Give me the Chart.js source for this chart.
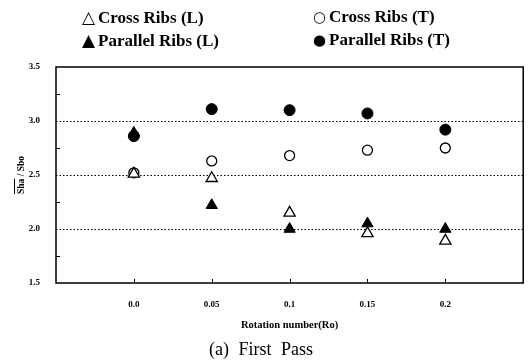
<!DOCTYPE html>
<html>
<head>
<meta charset="utf-8">
<script src="https://cdn.jsdelivr.net/npm/chart.js@4"></script>
<style>
  html, body { margin: 0; padding: 0; background: #fff; }
  #wrap { position: relative; width: 531px; height: 364px; }
  .leg { position: absolute; font: bold 17px/18px "Liberation Serif", serif; color: #000; white-space: nowrap; }
  .leg span { font: 15px/18px "DejaVu Sans", sans-serif; margin-right: 3px; }
  .leg span.tri { font-size: 17px; }
  #caption { position: absolute; left: 209px; top: 339px; font: 18px/20px "Liberation Serif", serif; word-spacing: 5px; }
</style>
</head>
<body>
<div id="wrap">
  <canvas id="chart" width="531" height="364"></canvas>
  <div class="leg" style="left:82px; top:8px;"><span class="tri">&#9651;</span>Cross Ribs (L)</div>
  <div class="leg" style="left:313px; top:8px;"><span>&#9675;</span>Cross Ribs (T)</div>
  <div class="leg" style="left:82px; top:31px;"><span class="tri">&#9650;</span>Parallel Ribs (L)</div>
  <div class="leg" style="left:313px; top:31px;"><span>&#9679;</span>Parallel Ribs (T)</div>
  <div id="caption">(a) First Pass</div>
</div>
<script>
const rotation = [0.0, 0.05, 0.1, 0.15, 0.2];
const xTickLabels = ["0.0", "0.05", "0.1", "0.15", "0.2"];
const yTickLabels = ["1.5", "2.0", "2.5", "3.0", "3.5"];

const crossL = [2.51, 2.47, 2.15, 1.96, 1.89];
const crossT = [2.52, 2.63, 2.68, 2.73, 2.75];
const parallelL = [2.89, 2.22, 2.00, 2.05, 2.00];
const parallelT = [2.86, 3.11, 3.10, 3.07, 2.92];

const toPoints = vals => rotation.map((x, i) => ({ x, y: vals[i] }));

// box frame, inner ticks and the y title with its overline
const framePlugin = {
  id: "frame",
  afterDraw(chart) {
    const { ctx, chartArea: a, scales } = chart;
    ctx.save();
    ctx.strokeStyle = "#000";
    ctx.lineWidth = 1.5;
    ctx.strokeRect(a.left, a.top, a.right - a.left, a.bottom - a.top);

    ctx.lineWidth = 1;
    ctx.beginPath();
    [1.75, 2.25, 2.75, 3.25].forEach(v => {
      const y = Math.round(scales.y.getPixelForValue(v)) + 0.5;
      ctx.moveTo(a.left, y);
      ctx.lineTo(a.left + 4, y);
    });
    rotation.forEach(v => {
      const x = Math.round(scales.x.getPixelForValue(v)) + 0.5;
      ctx.moveTo(x, a.bottom);
      ctx.lineTo(x, a.bottom - 4);
    });
    ctx.stroke();

    const cy = (a.top + a.bottom) / 2;
    ctx.translate(22, cy);
    ctx.rotate(-Math.PI / 2);
    ctx.font = "bold 9.5px 'Liberation Serif', serif";
    ctx.textAlign = "center";
    ctx.textBaseline = "middle";
    ctx.fillStyle = "#000";
    const label = "Sha / Sbo";
    ctx.fillText(label, 0, 0);
    const full = ctx.measureText(label).width;
    const sha = ctx.measureText("Sha").width;
    ctx.beginPath();
    ctx.moveTo(-full / 2, -7.5);
    ctx.lineTo(-full / 2 + sha, -7.5);
    ctx.stroke();
    ctx.restore();
  }
};

const tickFont = { family: "'Liberation Serif', serif", size: 9, weight: "bold" };

new Chart(document.getElementById("chart"), {
  type: "scatter",
  data: {
    datasets: [
      { label: "Cross Ribs (L)", data: toPoints(crossL), pointStyle: "triangle", pointRadius: 6.5,
        backgroundColor: "#fff", borderColor: "#000", borderWidth: 1.3 },
      { label: "Cross Ribs (T)", data: toPoints(crossT), pointStyle: "circle", pointRadius: 5,
        backgroundColor: "#fff", borderColor: "#000", borderWidth: 1.3 },
      { label: "Parallel Ribs (L)", data: toPoints(parallelL), pointStyle: "triangle", pointRadius: 6.5,
        backgroundColor: "#000", borderColor: "#000", borderWidth: 1 },
      { label: "Parallel Ribs (T)", data: toPoints(parallelT), pointStyle: "circle", pointRadius: 5.5,
        backgroundColor: "#000", borderColor: "#000", borderWidth: 1 }
    ]
  },
  options: {
    responsive: false,
    animation: false,
    layout: { padding: { top: 67, right: 4, bottom: 32, left: 0 } },
    plugins: { legend: { display: false }, tooltip: { enabled: false } },
    scales: {
      x: {
        type: "linear",
        min: -0.05,
        max: 0.25,
        afterBuildTicks: s => { s.ticks = rotation.map(v => ({ value: v })); },
        afterFit: s => { s.height = 49; },
        grid: { display: false },
        border: { display: false },
        ticks: {
          color: "#000",
          font: tickFont,
          padding: 8,
          callback: (v, i) => xTickLabels[i]
        },
        title: {
          display: true,
          text: "Rotation number(Ro)",
          color: "#000",
          font: { family: "'Liberation Serif', serif", size: 10.5, weight: "bold" },
          padding: { top: 0, bottom: 0 }
        }
      },
      y: {
        min: 1.5,
        max: 3.5,
        afterBuildTicks: s => { s.ticks = yTickLabels.map(t => ({ value: parseFloat(t) })); },
        afterFit: s => { s.width = 56; },
        grid: {
          drawTicks: false,
          color: ctx => (ctx.tick && ctx.tick.value > 1.5 && ctx.tick.value < 3.5) ? "#000" : "rgba(0,0,0,0)",
          lineWidth: 1
        },
        border: { display: false, dash: [1.5, 2] },
        ticks: {
          color: "#000",
          font: tickFont,
          padding: 16,
          callback: (v, i) => yTickLabels[i]
        }
      }
    }
  },
  plugins: [framePlugin]
});
</script>
</body>
</html>
